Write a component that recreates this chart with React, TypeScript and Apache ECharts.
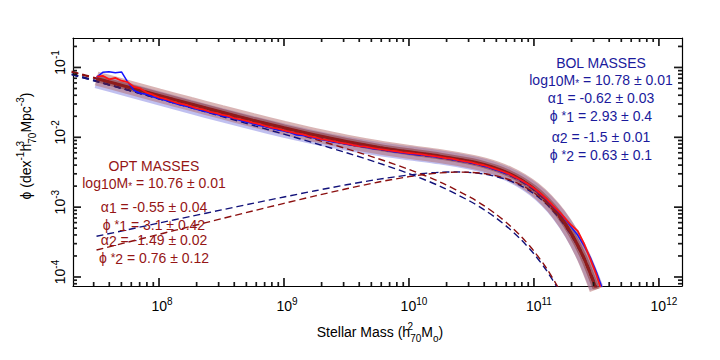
import React, { useEffect, useRef } from 'react';
import * as echarts from 'echarts';

// ---------- data ----------
// fit grid (log10 stellar mass)
const fitLogM = [7.3, 7.5, 7.75, 8.0, 8.25, 8.5, 8.75, 9.0, 9.25, 9.5, 9.75, 10.0, 10.25, 10.5, 10.6, 10.7, 10.8, 10.9, 11.0, 11.1, 11.2, 11.3, 11.4, 11.5];
const bolTotal = [0.0800, 0.06367, 0.04792, 0.03614, 0.027359, 0.02083, 0.016007, 0.012473, 0.009916, 0.008098, 0.006822, 0.005904, 0.005147, 0.004309, 0.003899, 0.0034305, 0.002907, 0.002343, 0.001770, 0.001229, 0.0007663, 0.0004168, 0.0001906, 0.0000699];
const optTotal = [0.08697, 0.069452, 0.0525, 0.039728, 0.030147, 0.022967, 0.017618, 0.013662, 0.010771, 0.008695, 0.007235, 0.006196, 0.005374, 0.004502, 0.004077, 0.003591, 0.003044, 0.002451, 0.001845, 0.001272, 0.0007846, 0.0004195, 0.000187, 0.0000663];
// steep (alpha2) components, on fitLogM up to 11.2
const bolComp2 = [0.07968, 0.06329, 0.04744, 0.03555, 0.026624, 0.01992, 0.014876, 0.011075, 0.0081986, 0.0060085, 0.0043255, 0.0030164, 0.001988, 0.0011848, 0.0009218, 0.0006924, 0.0004975, 0.0003381, 0.0002142, 0.0001242, 0.0000644];
const optComp2 = [0.08677, 0.069209, 0.052185, 0.03932, 0.029619, 0.022284, 0.016737, 0.012529, 0.0093237, 0.006864, 0.0049613, 0.0034667, 0.0022842, 0.0013545, 0.0010495, 0.0007838, 0.0005588, 0.0003758, 0.0002348, 0.0001337, 0.0000678];
// shallow (alpha1) components
const comp1LogM = [7.5, 7.75, 8.0, 8.25, 8.5, 8.75, 9.0, 9.25, 9.5, 9.75, 10.0, 10.125, 10.25, 10.375, 10.5, 10.6, 10.7, 10.8, 10.9, 11.0, 11.1, 11.2, 11.3, 11.4, 11.5];
const bolComp1 = [3.824e-4, 4.758e-4, 5.916e-4, 7.351e-4, 9.127e-4, 1.1313e-3, 1.3981e-3, 1.7178e-3, 2.0893e-3, 2.4963e-3, 2.888e-3, 3.0491e-3, 3.159e-3, 3.1958e-3, 3.1245e-3, 2.9773e-3, 2.7381e-3, 2.4095e-3, 2.0052e-3, 1.5558e-3, 1.105e-3, 7.019e-4, 3.877e-4, 1.796e-4, 6.66e-5];
const optComp1 = [2.434e-4, 3.152e-4, 4.0816e-4, 5.2828e-4, 6.8263e-4, 8.8067e-4, 1.1325e-3, 1.4477e-3, 1.83114e-3, 2.2737e-3, 2.72964e-3, 2.9338e-3, 3.0895e-3, 3.1716e-3, 3.1472e-3, 3.0277e-3, 2.8076e-3, 2.4853e-3, 2.0753e-3, 1.6102e-3, 1.1386e-3, 7.168e-4, 3.898e-4, 1.7622e-4, 6.314e-5];

// measured mass functions, bins of 0.05 dex starting at log M = 7.50
const binStart = 7.5;
const binWidth = 0.05;
const bolData = [
  0.0720, 0.0851, 0.0871, 0.0841, 0.0862, 0.0617, 0.0468, 0.0427, 0.0412, 0.0380,
  0.0355, 0.0339, 0.0316, 0.0298, 0.0282, 0.0269, 0.0251, 0.0240, 0.0226, 0.0216,
  0.0204, 0.0195, 0.0187, 0.0174, 0.0166, 0.0158, 0.0148, 0.0143, 0.0135, 0.0127,
  0.0123, 0.0117, 0.0108, 0.0106, 0.0102, 0.00966, 0.00933, 0.00891, 0.00851, 0.00832,
  0.00794, 0.00767, 0.00752, 0.00724, 0.00692, 0.00676, 0.00661, 0.00631, 0.00617, 0.00596,
  0.00582, 0.00569, 0.00556, 0.00545, 0.00525, 0.00513, 0.00495, 0.00479, 0.00462, 0.00447,
  0.00427, 0.00407, 0.00389, 0.00363, 0.00339, 0.00316, 0.00295, 0.00266, 0.00240, 0.00211,
  0.00184, 0.00155, 0.00130, 0.00105, 0.000851, 0.000676, 0.000513, 0.000398, 0.000282, 0.000191,
  0.000117, 0.0000660,
];
const optData = [
  0.0741, 0.0759, 0.0676, 0.0708, 0.0646, 0.0617, 0.0525, 0.0501, 0.0437, 0.0407,
  0.0372, 0.0355, 0.0331, 0.0309, 0.0295, 0.0279, 0.0260, 0.0251, 0.0234, 0.0224,
  0.0211, 0.0202, 0.0188, 0.0180, 0.0172, 0.0162, 0.0155, 0.0146, 0.0138, 0.0133,
  0.0126, 0.0120, 0.0114, 0.0110, 0.0104, 0.0100, 0.00944, 0.00912, 0.00871, 0.00841,
  0.00813, 0.00776, 0.00750, 0.00733, 0.00708, 0.00684, 0.00668, 0.00646, 0.00631, 0.00610,
  0.00596, 0.00582, 0.00569, 0.00550, 0.00537, 0.00519, 0.00501, 0.00490, 0.00468, 0.00452,
  0.00437, 0.00412, 0.00398, 0.00372, 0.00347, 0.00324, 0.00299, 0.00269, 0.00243, 0.00214,
  0.00186, 0.00158, 0.00132, 0.00106, 0.000871, 0.000692, 0.000550, 0.000457, 0.000302, 0.000182,
  0.000107, 0.0000560,
];

const xMin = 2.05e7;
const xMax = 1.53e12;
const yMin = 7.43e-5;
const yMax = 0.264;

const bolLabels = ['BOL MASSES', 'log10M* = 10.78 ± 0.01', 'α1 = -0.62 ± 0.03', 'ϕ *1 = 2.93 ± 0.4', 'α2 = -1.5 ± 0.01', 'ϕ *2 = 0.63 ± 0.1'];
const optLabels = ['OPT MASSES', 'log10M* = 10.76 ± 0.01', 'α1 = -0.55 ± 0.04', 'ϕ *1 = 3.1 ± 0.42', 'α2 = -1.49 ± 0.02', 'ϕ *2 = 0.76 ± 0.12'];

// ---------- helpers ----------
const FONT = '"Liberation Sans", Arial, Helvetica, sans-serif';
const BOL_C = '#1a1a9c';
const OPT_C = '#951515';
const TICK_C = '#1a1a1a';

const pairs = (logM: number[], vals: number[]) => vals.map((v, i) => [Math.pow(10, logM[i]), v]);
const binPairs = (vals: number[]) => vals.map((v, i) => [Math.pow(10, binStart + binWidth * i), v]);

// convert an annotation string to rich text tokens
function toRich(s: string): string {
  if (s.endsWith('MASSES')) return `{n|${s}}`;
  if (s.startsWith('log10M*')) return `{n|log}{sb|10}{n|M}{st|*}{n|${s.slice(7)}}`;
  if (s.startsWith('α')) return `{n|α}{sb|${s[1]}}{n|${s.slice(2)}}`;
  if (s.startsWith('ϕ *')) return `{n|ϕ }{ss|*}{sb|${s[3]}}{n|${s.slice(4)}}`;
  return `{n|${s}}`;
}
const annRich = (c: string) => ({
  n: { fontSize: 14, lineHeight: 16, fontFamily: FONT, fill: c },
  sb: { fontSize: 14, lineHeight: 12, verticalAlign: 'bottom', fontFamily: FONT, fill: c },
  st: { fontSize: 10, lineHeight: 9, verticalAlign: 'bottom', fontFamily: FONT, fill: c },
  ss: { fontSize: 12, lineHeight: 16, fontFamily: FONT, fill: c },
});

const tickFormatter = (v: number) => {
  const e = Math.log10(v);
  const r = Math.round(e);
  if (Math.abs(e - r) > 1e-3) return '';
  const s = String(r);
  return `{p${s.length}| }{b|10}{s|${s}}`;
};
const tickRich = {
  b: { fontSize: 14, lineHeight: 20, fontFamily: FONT, color: '#000' },
  s: { fontSize: 10, lineHeight: 10, verticalAlign: 'top', fontFamily: FONT, color: '#000' },
  p1: { width: 6, fontSize: 10 },
  p2: { width: 10, fontSize: 10 },
};

// tick values: majors at 10^n, minors at 2..9 x 10^n, inside the axis ranges
function tickValues(lo: number, hi: number, e0: number, e1: number) {
  const major: number[] = [];
  const minor: number[] = [];
  for (let e = e0; e <= e1; e++) for (let k = 1; k <= 9; k++) {
    const v = k * Math.pow(10, e);
    if (v > lo && v < hi) (k === 1 ? major : minor).push(v);
  }
  return { major, minor };
}
const xTicks = tickValues(xMin, xMax, 7, 12);
const yTicks = tickValues(yMin, yMax, -5, 0);
const MAJOR_LEN = 8;
const MINOR_LEN = 4;

const lineBase = { type: 'line', symbol: 'none', silent: true, xAxisIndex: 0, yAxisIndex: 0 };

function buildGraphics(): any[] {
  const graphics: any[] = [];
  const bolY = [63, 80, 98, 116, 137, 155];
  const optY = [166, 183, 207, 225, 240, 258];
  bolLabels.forEach((t, i) => graphics.push({
    type: 'text', x: 601, y: bolY[i], z: 100,
    style: { text: toRich(t), rich: annRich(BOL_C), fill: BOL_C, align: 'center', verticalAlign: 'middle', font: `14px ${FONT}` },
  }));
  optLabels.forEach((t, i) => graphics.push({
    type: 'text', x: 154, y: optY[i], z: 100,
    style: { text: toRich(t), rich: annRich(OPT_C), fill: OPT_C, align: 'center', verticalAlign: 'middle', font: `14px ${FONT}` },
  }));
  const titleRich = {
    n: { fontSize: 14, lineHeight: 22, fontFamily: FONT, fill: '#000' },
    sp: { fontSize: 10, lineHeight: 10, verticalAlign: 'top', fontFamily: FONT, fill: '#000' },
    spz: { fontSize: 10, lineHeight: 10, verticalAlign: 'top', width: 0.1, fontFamily: FONT, fill: '#000' },
    sb: { fontSize: 10, lineHeight: 10, verticalAlign: 'bottom', fontFamily: FONT, fill: '#000' },
  };
  graphics.push({
    type: 'text', x: 380, y: 332, z: 100,
    style: { text: '{n|Stellar Mass (h}{spz|2}{sb|70}{n|M}{sb|o}{n|)}', rich: titleRich, align: 'center', verticalAlign: 'middle', fill: '#000', font: `14px ${FONT}` },
  });
  graphics.push({
    type: 'text', x: 26, y: 146, rotation: Math.PI / 2, z: 100,
    style: { text: '{n|ϕ (dex}{sp|-1}{n|h}{spz|3}{sb|70}{n|Mpc}{sp|-3}{n|)}', rich: titleRich, align: 'center', verticalAlign: 'middle', fill: '#000', font: `14px ${FONT}` },
  });
  return graphics;
}

// tick marks on all four sides, placed through the axes' own scales
function tickGraphics(chart: any): any[] {
  const px = (v: number) => chart.convertToPixel({ xAxisIndex: 0 }, v);
  const py = (v: number) => chart.convertToPixel({ yAxisIndex: 0 }, v);
  const left = px(xMin), right = px(xMax), top = py(yMax), bottom = py(yMin);
  const out: any[] = [];
  const seg = (x1: number, y1: number, x2: number, y2: number) => out.push({
    type: 'line', z: 90, silent: true,
    shape: { x1, y1, x2, y2 }, style: { stroke: TICK_C, lineWidth: 1.7 },
  });
  const addX = (vals: number[], len: number) => vals.forEach((v) => {
    const x = px(v);
    seg(x, bottom, x, bottom - len);
    seg(x, top, x, top + len);
  });
  const addY = (vals: number[], len: number) => vals.forEach((v) => {
    const y = py(v);
    seg(left, y, left + len, y);
    seg(right, y, right - len, y);
  });
  addX(xTicks.major, MAJOR_LEN);
  addX(xTicks.minor, MINOR_LEN);
  addY(yTicks.major, MAJOR_LEN);
  addY(yTicks.minor, MINOR_LEN);
  return out;
}

function buildOption(): any {
  const axisLine = { show: true, onZero: false, lineStyle: { color: '#000', width: 1.2 } };
  return {
    animation: false,
    backgroundColor: '#fff',
    grid: { left: 73, right: 38, top: 38, bottom: 74, containLabel: false, outerBoundsMode: 'none' },
    xAxis: [
      {
        type: 'log', logBase: 10, min: xMin, max: xMax, position: 'bottom', axisLine,
        axisTick: { show: false },
        axisLabel: { formatter: tickFormatter, rich: tickRich, margin: 10, showMinLabel: false, showMaxLabel: false, color: '#000', fontFamily: FONT },
        splitLine: { show: false }, minorTick: { show: false },
      },
      {
        type: 'log', logBase: 10, min: xMin, max: xMax, position: 'top', axisLine,
        axisTick: { show: false }, axisLabel: { show: false }, splitLine: { show: false },
      },
    ],
    yAxis: [
      {
        type: 'log', logBase: 10, min: yMin, max: yMax, position: 'left', axisLine,
        axisTick: { show: false },
        axisLabel: { formatter: tickFormatter, rich: tickRich, margin: 3, rotate: 90, showMinLabel: false, showMaxLabel: false, color: '#000', fontFamily: FONT },
        splitLine: { show: false }, minorTick: { show: false },
      },
      {
        type: 'log', logBase: 10, min: yMin, max: yMax, position: 'right', axisLine,
        axisTick: { show: false }, axisLabel: { show: false }, splitLine: { show: false },
      },
    ],
    graphic: buildGraphics(),
    series: [
      // uncertainty bands
      { ...lineBase, smooth: 0.3, data: pairs(fitLogM.slice(1), bolTotal.slice(1)), lineStyle: { width: 14, color: 'rgba(105,105,220,0.42)', cap: 'butt' }, z: 2 },
      { ...lineBase, smooth: 0.3, data: pairs(fitLogM.slice(1), optTotal.slice(1)), lineStyle: { width: 14, color: 'rgba(180,105,105,0.5)', cap: 'butt' }, z: 2 },
      // dashed fits
      { ...lineBase, smooth: 0.3, data: pairs(fitLogM, bolTotal), lineStyle: { width: 2.2, color: '#12127a', type: [7, 4] }, z: 3 },
      { ...lineBase, smooth: 0.3, data: pairs(fitLogM, optTotal), lineStyle: { width: 2.2, color: '#8b0f0f', type: [7, 4] }, z: 3 },
      { ...lineBase, smooth: 0.3, data: pairs(comp1LogM, bolComp1), lineStyle: { width: 1.4, color: '#12127a', type: [7, 4] }, z: 3 },
      { ...lineBase, smooth: 0.3, data: pairs(comp1LogM, optComp1), lineStyle: { width: 1.4, color: '#8b0f0f', type: [7, 4] }, z: 3 },
      { ...lineBase, smooth: 0.3, data: pairs(fitLogM, bolComp2), lineStyle: { width: 1.4, color: '#12127a', type: [7, 4] }, z: 3 },
      { ...lineBase, smooth: 0.3, data: pairs(fitLogM, optComp2), lineStyle: { width: 1.4, color: '#8b0f0f', type: [7, 4] }, z: 3 },
      // core of band and best fit
      { ...lineBase, smooth: 0.3, data: pairs(fitLogM.slice(1), optTotal.slice(1)), lineStyle: { width: 7, color: 'rgba(130,35,35,0.45)' }, z: 4 },
      { ...lineBase, smooth: 0.3, data: pairs(fitLogM.slice(1), optTotal.slice(1)), lineStyle: { width: 3, color: '#8e1b1b' }, z: 4 },
      // measured
      { ...lineBase, data: binPairs(bolData), lineStyle: { width: 1.5, color: '#1414ff' }, z: 5 },
      { ...lineBase, data: binPairs(optData), lineStyle: { width: 1.8, color: '#ff1414' }, z: 5 },
    ],
  };
}

export default function App() {
  const ref = useRef<HTMLDivElement>(null);
  useEffect(() => {
    const chart = echarts.init(ref.current!, null, { renderer: 'svg' });
    chart.setOption(buildOption());
    chart.setOption({ graphic: buildGraphics().concat(tickGraphics(chart)) });
    return () => chart.dispose();
  }, []);
  return <div ref={ref} style={{ position: 'fixed', left: 0, top: 0, width: 720, height: 360, background: '#fff' }} />;
}
